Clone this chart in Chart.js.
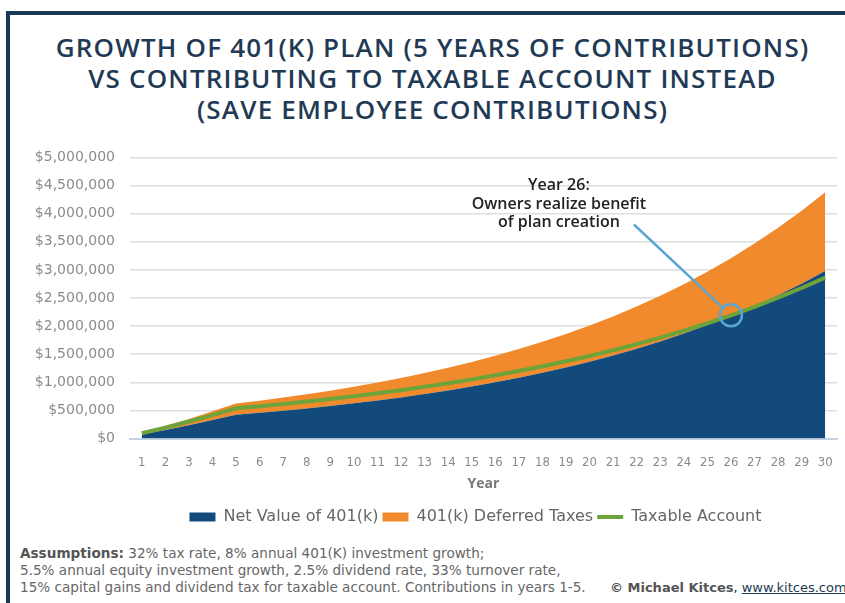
<!DOCTYPE html>
<html>
<head>
<meta charset="utf-8">
<script src="https://cdn.jsdelivr.net/npm/chart.js@4.4.1/dist/chart.umd.min.js"></script>
<style>
  html, body { margin: 0; padding: 0; background: #fff; }
  body { width: 845px; height: 603px; position: relative; overflow: hidden; }
  .frame { position: absolute; left: 6px; top: 11px; width: 900px; height: 700px;
           border-top: 4px solid #1b3856; border-left: 4px solid #1b3856; }
  .title { position: absolute; left: 10px; width: 845px; top: 32px; text-align: center;
           font-family: "Open Sans", sans-serif; font-weight: 600; font-size: 26px;
           line-height: 31px; color: #1f3a55; letter-spacing: 1.2px; }
  #chartWrap { position: absolute; left: 0; top: 134px; width: 845px; height: 401px; }
  .notes { position: absolute; left: 20px; top: 545px; width: 840px;
           font-family: "DejaVu Sans", sans-serif;
           font-size: 13.6px; line-height: 17px; color: #666; white-space: nowrap; }
  .notes b { color: #555; }
  .credit { position: absolute; left: 590px; top: 34px; color: #222; font-size: 13px; }
  .credit a { color: #1f3a55; text-decoration: underline; }
</style>
</head>
<body>
<div class="frame"></div>
<div class="title">GROWTH OF 401(K) PLAN (5 YEARS OF CONTRIBUTIONS)<br>VS CONTRIBUTING TO TAXABLE ACCOUNT INSTEAD<br>(SAVE EMPLOYEE CONTRIBUTIONS)</div>
<div id="chartWrap"><canvas id="growthChart"></canvas></div>
<div class="notes">
  <b>Assumptions:</b> 32% tax rate, 8% annual 401(K) investment growth;<br>
  5.5% annual equity investment growth, 2.5% dividend rate, 33% turnover rate,<br>
  15% capital gains and dividend tax for taxable account. Contributions in years 1-5.
  <span class="credit"><b>© Michael Kitces</b>, <a>www.kitces.com</a></span>
</div>
<script>
const years = ['1','2','3','4','5','6','7','8','9','10','11','12','13','14','15',
  '16','17','18','19','20','21','22','23','24','25','26','27','28','29','30'];

// after-tax value of the 401(k) balance
const netValue401k = [73000, 153000, 238000, 331000, 425000, 459000, 497000, 537000, 580000, 627000,
  678000, 733000, 792000, 857000, 926000, 1001000, 1082000, 1170000, 1264000, 1367000,
  1478000, 1597000, 1727000, 1867000, 2018000, 2181000, 2358000, 2549000, 2755000, 2978000];

// taxes still owed on the 401(k), stacked on top of the net value
const deferredTaxes = [35000, 72000, 112000, 156000, 200000, 216000, 234000, 253000, 273000, 295000,
  319000, 345000, 373000, 403000, 436000, 471000, 509000, 550000, 595000, 643000,
  695000, 752000, 813000, 878000, 950000, 1026000, 1110000, 1199000, 1297000, 1402000];

const taxableAccount = [94000, 195000, 303000, 418000, 540000, 577000, 617000, 660000, 705000, 754000,
  806000, 861000, 921000, 984000, 1052000, 1125000, 1203000, 1286000, 1374000, 1469000,
  1571000, 1679000, 1795000, 1919000, 2051000, 2192000, 2344000, 2505000, 2678000, 2863000];

const calloutLines = ['Year 26:', 'Owners realize benefit', 'of plan creation'];
const calloutYear = '26';

const NAVY = '#134a7c';
const ORANGE = '#f08a2c';
const GREEN = '#6ea33a';
const CALLOUT = '#5aa6d3';

const calloutPlugin = {
  id: 'callout',
  afterDatasetsDraw(chart) {
    const { ctx, scales: { x, y } } = chart;
    const idx = years.indexOf(calloutYear);
    const cx = x.getPixelForValue(idx);
    const cy = y.getPixelForValue(taxableAccount[idx]);
    const r = 11;

    // text block anchored in data space
    const tx = x.getPixelForValue(17.7);
    const ty = y.getPixelForValue(4500000);

    ctx.save();
    ctx.fillStyle = '#222';
    ctx.font = '600 16px "Open Sans", sans-serif';
    ctx.textAlign = 'center';
    ctx.textBaseline = 'middle';
    calloutLines.forEach((line, i) => ctx.fillText(line, tx, ty + i * 18.5));

    // leader line from the text to the circle edge
    const sx = tx + 75, sy = ty + 39;
    const ang = Math.atan2(cy - sy, cx - sx);
    ctx.strokeStyle = CALLOUT;
    ctx.lineWidth = 2.5;
    ctx.beginPath();
    ctx.moveTo(sx, sy);
    ctx.lineTo(cx - Math.cos(ang) * r, cy - Math.sin(ang) * r);
    ctx.stroke();

    ctx.beginPath();
    ctx.arc(cx, cy, r, 0, Math.PI * 2);
    ctx.stroke();
    ctx.restore();
  }
};

// center the legend under the plot area rather than the whole canvas
const legendShift = {
  id: 'legendShift',
  afterLayout(chart) {
    const lg = chart.legend;
    const dx = (chart.chartArea.left + chart.chartArea.right) / 2 - (lg.left + lg.right) / 2 - 8;
    lg.left += dx;
    lg.right += dx;
  }
};

new Chart(document.getElementById('growthChart'), {
  type: 'line',
  data: {
    labels: years,
    datasets: [
      {
        label: 'Net Value of 401(k)',
        data: netValue401k,
        stack: 'plan',
        backgroundColor: NAVY,
        borderColor: NAVY,
        borderWidth: 0,
        fill: 'origin',
        pointStyle: 'rect',
        order: 1
      },
      {
        label: '401(k) Deferred Taxes',
        data: deferredTaxes,
        stack: 'plan',
        backgroundColor: ORANGE,
        borderColor: ORANGE,
        borderWidth: 0,
        fill: '-1',
        pointStyle: 'rect',
        order: 1
      },
      {
        // drawn last so the line sits over both areas
        label: 'Taxable Account',
        data: taxableAccount,
        stack: 'taxable',
        borderColor: GREEN,
        backgroundColor: GREEN,
        borderWidth: 4,
        fill: false,
        pointStyle: 'line',
        order: 0
      }
    ]
  },
  options: {
    responsive: true,
    maintainAspectRatio: false,
    animation: false,
    elements: { point: { radius: 0, hoverRadius: 0 }, line: { tension: 0 } },
    layout: { padding: { top: 0, right: 8, left: 0, bottom: 0 } },
    scales: {
      x: {
        offset: true,
        grid: { display: false },
        border: { color: '#c3d2e0', width: 2 },
        ticks: {
          color: '#8a8a8a',
          padding: 8,
          maxRotation: 0,
          autoSkip: false,
          font: { family: '"DejaVu Sans Condensed", sans-serif', size: 13 }
        },
        title: {
          display: true,
          text: 'Year',
          color: '#777',
          padding: { top: -3, bottom: 13 },
          font: { family: '"Open Sans", sans-serif', size: 14, weight: '700' }
        }
      },
      y: {
        stacked: true,
        min: 0,
        max: 5000000,
        afterFit(scale) { scale.width = 130; },
        border: { display: false },
        grid: { color: '#dedede', lineWidth: 1.5, drawTicks: false },
        ticks: {
          stepSize: 500000,
          padding: 15,
          color: '#8c8c8c',
          font: { family: '"DejaVu Sans", sans-serif', size: 14 },
          callback: v => '$' + v.toLocaleString('en-US')
        }
      }
    },
    plugins: {
      legend: {
        position: 'bottom',
        labels: {
          usePointStyle: true,
          pointStyleWidth: 26,
          boxHeight: 9,
          padding: 4,
          color: '#666',
          font: { family: '"DejaVu Sans", sans-serif', size: 16 },
          sort: (a, b) => a.datasetIndex - b.datasetIndex
        }
      },
      tooltip: { enabled: false }
    }
  },
  plugins: [calloutPlugin, legendShift]
});
</script>
</body>
</html>
